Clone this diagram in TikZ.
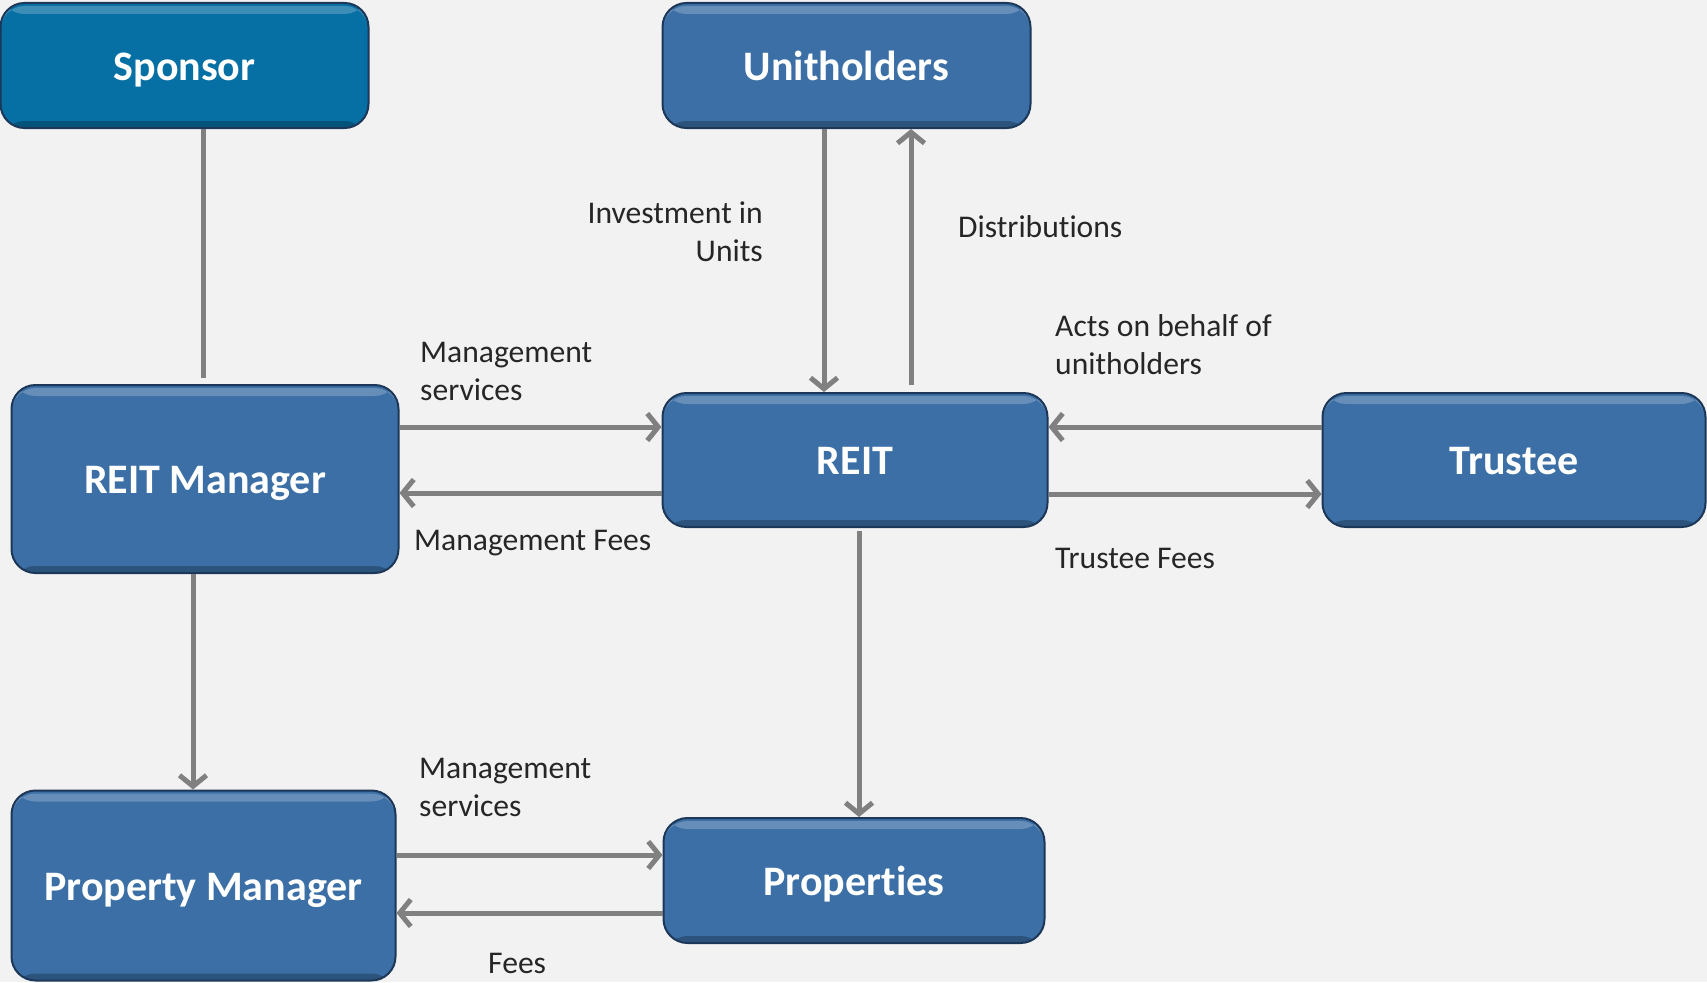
\documentclass[tikz,border=0pt]{standalone}
\usepackage{fontspec}
\setmainfont{Carlito}[Ligatures=NoCommon]
\usetikzlibrary{arrows.meta,calc}
\definecolor{bgc}{RGB}{242,242,242}
\definecolor{boxc}{RGB}{59,111,165}
\definecolor{spc}{RGB}{6,111,164}
\definecolor{edgec}{RGB}{28,55,88}
\definecolor{linec}{RGB}{128,128,128}
\definecolor{txtc}{RGB}{38,38,38}
\tikzset{
  box/.style={rounded corners=24pt, fill=boxc, draw=edgec, line width=2pt, inner sep=0pt,
    text=white, font=\fontsize{42}{50}\selectfont\bfseries, text height=29pt, text depth=0pt,
    path picture={
      \fill[white,opacity=0.22] ([yshift=-3pt]path picture bounding box.north west) rectangle ([yshift=-11pt]path picture bounding box.north east);
      \fill[black,opacity=0.25] (path picture bounding box.south west) rectangle ([yshift=7pt]path picture bounding box.south east);
    }},
  conn/.style={draw=linec, line width=5pt},
  arr/.style={conn, -{Straight Barb[length=11pt,width=27pt,line width=5pt]}},
  lbl/.style={inner sep=0pt, text=txtc, font=\fontsize{31.6}{38}\selectfont}
}
\begin{document}
\begin{tikzpicture}[x=1pt,y=-1pt]
\fill[bgc] (0,0) rectangle (1707,982);
\useasboundingbox (0,0) rectangle (1707,982);

\node[box, fill=spc, minimum width=368pt, minimum height=125pt] (sp) at (184.5,65.5) {Sponsor};
\node[box, minimum width=368pt, minimum height=125pt] (uh) at (846.5,65.5) {Unitholders};
\node[box, minimum width=387pt, minimum height=188pt] (rm) at (205,479) {REIT Manager};
\node[box, minimum width=385pt, minimum height=134pt] (reit) at (855,460) {REIT};
\node[box, minimum width=383pt, minimum height=134pt] (tr) at (1514,460) {Trustee};
\node[box, minimum width=384pt, minimum height=190pt] (pm) at (203.5,885.5) {Property Manager};
\node[box, minimum width=381pt, minimum height=125pt] (pr) at (854,880.5) {Properties};

% connectors
\draw[conn] ([xshift=18.5pt]sp.south) -- ([xshift=18.5pt,yshift=6pt]sp.south |- rm.north);
\draw[arr] ([xshift=-22.5pt]uh.south) -- ([xshift=-22.5pt]uh.south |- reit.north);
\draw[arr] ([xshift=56pt,yshift=7pt]reit.north) -- ([xshift=56pt]reit.north |- uh.south);
\draw[arr] ([yshift=52pt]rm.east) -- ([yshift=52pt]rm.east -| reit.west);
\draw[arr] ([yshift=-33pt]reit.west) -- ([yshift=-33pt]reit.west -| rm.east);
\draw[arr] ([yshift=33pt]tr.west) -- ([yshift=33pt]tr.west -| reit.east);
\draw[arr] ([yshift=-34pt]reit.east) -- ([yshift=-34pt]reit.east -| tr.west);
\draw[arr] ([xshift=4pt,yshift=-3pt]reit.south) -- ([xshift=4pt]reit.south |- pr.north);
\draw[arr] ([xshift=-12pt]rm.south) -- ([xshift=-12pt]rm.south |- pm.north);
\draw[arr] ([yshift=30.5pt]pm.east) -- ([yshift=30.5pt]pm.east -| pr.west);
\draw[arr] ([yshift=-32.5pt]pr.west) -- ([yshift=-32.5pt]pr.west -| pm.east);

% labels
\node[lbl, anchor=east, align=right] (linv) at (763,232) {Investment in\\Units};
\node[lbl, anchor=west] (ldist) at (958,227) {Distributions};
\node[lbl, anchor=west, align=left] (lms1) at (420,371) {Management\\services};
\node[lbl, anchor=west] (lmf) at (414,543) {Management Fees};
\node[lbl, anchor=west, align=left] (lacts) at (1055,345) {Acts on behalf of\\unitholders};
\node[lbl, anchor=west] (ltf) at (1055,558) {Trustee Fees};
\node[lbl, anchor=west, align=left] (lms2) at (419,787) {Management\\services};
\node[lbl, anchor=west] (lfees) at (488,963) {Fees};
\end{tikzpicture}
\end{document}
